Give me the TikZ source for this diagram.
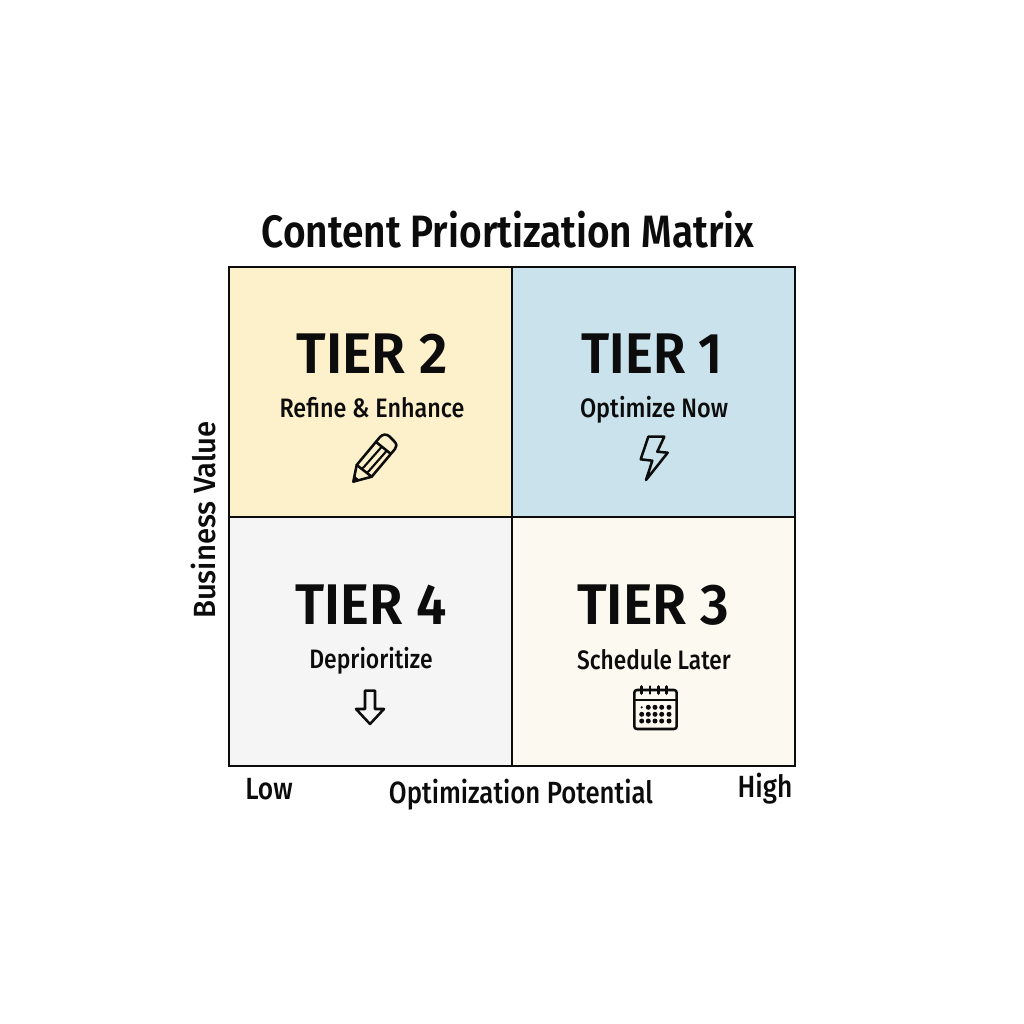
\documentclass[tikz,border=0pt]{standalone}
\usepackage{fontspec}
\usepackage{graphicx}
\setmainfont{Fira Sans}[UprightFont=* Medium]
\newfontfamily\tierfont{Fira Sans}[UprightFont=* SemiBold]
\definecolor{cella}{HTML}{FDF1CC}
\definecolor{cellb}{HTML}{CAE2EC}
\definecolor{cellc}{HTML}{F5F5F5}
\definecolor{celld}{HTML}{FCF9F0}
\definecolor{ink}{HTML}{0C0C0C}
\newcommand{\squeeze}[2]{\scalebox{#1}[1]{#2}}
\tikzset{
  x=0.75pt,y=-0.75pt,
  cellbox/.style={draw=ink,line width=1.3pt},
  tierlabel/.style={text=ink,font=\tierfont\fontsize{43}{43}\selectfont,inner sep=0pt,anchor=center},
  sublabel/.style={text=ink,font=\fontsize{20}{20}\selectfont,inner sep=0pt,anchor=center},
  axislabel/.style={text=ink,font=\fontsize{23}{23}\selectfont,inner sep=0pt,anchor=center},
  titlelabel/.style={text=ink,font=\tierfont\fontsize{34}{34}\selectfont,inner sep=0pt,anchor=center},
  icon/.style={draw=ink,line width=1.9pt,line join=round,line cap=round},
  thinicon/.style={draw=ink,line width=1.6pt,line join=round,line cap=round},
}
\begin{document}
\begin{tikzpicture}
\useasboundingbox[fill=white] (0,0) rectangle (1024,1024);
% cells
\fill[cella] (229,267) rectangle (512,517);
\fill[cellb] (512,267) rectangle (795,517);
\fill[cellc] (229,517) rectangle (512,766);
\fill[celld] (512,517) rectangle (795,766);
\draw[cellbox] (229,267) rectangle (795,766);
\draw[cellbox] (512,267) -- (512,766);
\draw[cellbox] (229,517) -- (795,517);
% text
\node[titlelabel] (title) at (508,230) {\squeeze{0.857}{Content Priortization Matrix}};
\node[tierlabel] (t2) at (372,354) {\squeeze{0.965}{TIER 2}};
\node[tierlabel] (t1) at (652,354) {\squeeze{0.92}{TIER 1}};
\node[tierlabel] (t4) at (371,605) {\squeeze{0.95}{TIER 4}};
\node[tierlabel] (t3) at (653,605) {\squeeze{0.97}{TIER 3}};
\node[sublabel] (s2) at (372,408) {\squeeze{0.875}{Refine \& Enhance}};
\node[sublabel] (s1) at (654,409.5) {\squeeze{0.88}{Optimize Now}};
\node[sublabel] (s4) at (371,661) {\squeeze{0.86}{Deprioritize}};
\node[sublabel] (s3) at (654,660) {\squeeze{0.85}{Schedule Later}};
\node[axislabel,rotate=90] (yax) at (204,520) {\squeeze{0.955}{Business Value}};
\node[axislabel] (xax) at (521,794.5) {\squeeze{0.84}{Optimization Potential}};
\node[axislabel] (low) at (269,789) {\squeeze{0.86}{Low}};
\node[axislabel] (high) at (765,789) {\squeeze{0.86}{High}};
% pencil
\draw[icon] (353.3,481.7) -- (356.7,465) -- (380,437) .. controls (383,434) and (386,434) .. (389,436)
  -- (394,441) .. controls (397,444) and (397,447) .. (395,449) -- (371.7,476.7) -- cycle;
\draw[icon] (356.7,465) -- (371.7,476.7);
\draw[icon] (376,442) -- (391,454);
\draw[thinicon] (363,468) -- (381.5,447);
\draw[thinicon] (368,472) -- (386.5,451);
\fill[ink] (353.3,481.7) -- (354.5,475.5) -- (359,479.5) -- cycle;
% bolt
\draw[icon] (648.3,436.7) -- (664.3,436.7) -- (657.3,451.7) -- (667.7,452.7) -- (646,480) -- (652.3,460.7) -- (640.7,459.3) -- cycle;
% arrow
\draw[icon] (365,690.7) -- (375,690.7) -- (375,709) -- (384,709) -- (370,724) -- (356,709) -- (365,709) -- cycle;
% calendar
\draw[icon,rounded corners=2pt] (634.3,690) rectangle (676.7,729);
\draw[icon] (634.3,700) -- (676.7,700);
\foreach \x in {641.7,650,658.3,666.7} \draw[icon] (\x,686.5) -- (\x,693.5);
\foreach \x in {648.3,655,661.7,669} \fill[ink] (\x,707.3) circle (2.5);
\fill[ink] (641.7,707.3) circle (1.2);
\foreach \y in {714.3,721} \foreach \x in {641.7,648.3,655,661.7,669} \fill[ink] (\x,\y) circle (2.5);
\end{tikzpicture}
\end{document}
